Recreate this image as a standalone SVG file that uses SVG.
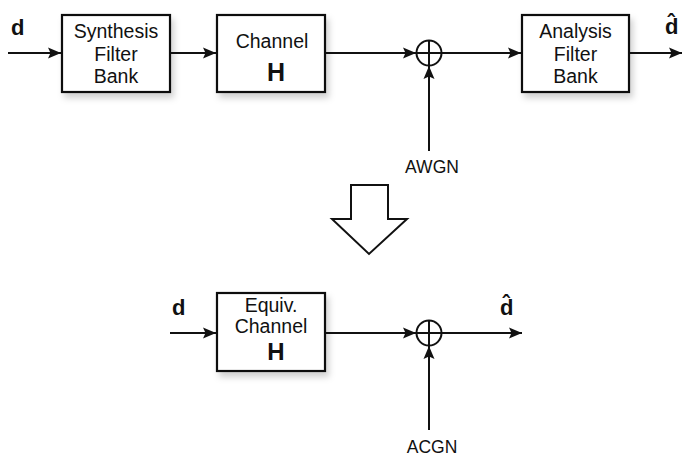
<svg xmlns="http://www.w3.org/2000/svg" width="682" height="459" viewBox="0 0 682 459">
<defs>
<marker id="ah" markerWidth="14" markerHeight="12" refX="13" refY="6" orient="auto" markerUnits="userSpaceOnUse">
<path d="M0,0.5 L13,6 L0,11.5 L2.5,6 Z" fill="#111"/>
</marker>
<filter id="sh" x="-10%" y="-10%" width="130%" height="140%">
<feDropShadow dx="3" dy="5" stdDeviation="3" flood-color="#000" flood-opacity="0.18"/>
</filter>
</defs>
<style>
.box{fill:#fff;stroke:#111;stroke-width:2.2;filter:url(#sh)}
.t{font-family:"Liberation Sans",Arial,sans-serif;font-size:19.5px;fill:#111;text-anchor:middle}
.b{font-family:"Liberation Sans",Arial,sans-serif;font-weight:bold;fill:#111}
.c{text-anchor:middle}
.ln{fill:none;stroke:#111;stroke-width:2}
.sum{fill:#fff;stroke:#111;stroke-width:2}
</style>
<rect width="682" height="459" fill="#fff"/>
<g id="synthesis">
<rect class="box" x="62" y="15" width="108" height="77"/>
<text class="t" x="116" y="38">Synthesis</text>
<text class="t" x="116" y="61">Filter</text>
<text class="t" x="116" y="83">Bank</text>
</g>
<g id="channel">
<rect class="box" x="217" y="15" width="108" height="77"/>
<text class="t" x="272" y="48">Channel</text>
<text class="b c" x="276" y="81" font-size="25">H</text>
</g>
<g id="sum1">
<circle class="sum" cx="429" cy="53" r="12.5"/>
<path class="ln" d="M416.5,53 H441.5 M429,40.5 V65.5" stroke-width="1.5"/>
</g>
<g id="analysis">
<rect class="box" x="522" y="15" width="107" height="77"/>
<text class="t" x="575.5" y="38">Analysis</text>
<text class="t" x="575.5" y="61">Filter</text>
<text class="t" x="575.5" y="83">Bank</text>
</g>
<g id="labels-top">
<text class="b" x="11" y="35" font-size="22">d</text>
<text class="b" x="665" y="34" font-size="22">d&#x302;</text>
<text class="t" x="432" y="173" style="font-size:17.5px">AWGN</text>
</g>
<g id="transform-arrow">
<path d="M351,185 H388 V219 H407 L369,254 L332,219 H351 Z" fill="#fff" stroke="#111" stroke-width="2"/>
</g>
<g id="equiv-channel">
<rect class="box" x="217" y="293" width="108" height="78"/>
<text class="t" x="271" y="312">Equiv.</text>
<text class="t" x="271" y="333">Channel</text>
<text class="b c" x="276" y="360" font-size="24">H</text>
</g>
<g id="sum2">
<circle class="sum" cx="429" cy="333" r="12.5"/>
<path class="ln" d="M416.5,333 H441.5 M429,320.5 V345.5" stroke-width="1.5"/>
</g>
<g id="labels-bottom">
<text class="b" x="172" y="315" font-size="22">d</text>
<text class="b" x="500" y="315" font-size="22">d&#x302;</text>
<text class="t" x="432" y="453" style="font-size:17.5px">ACGN</text>
</g>
<g id="connectors">
<line class="ln" x1="8" y1="53" x2="61" y2="53" marker-end="url(#ah)"/>
<line class="ln" x1="171" y1="53" x2="216" y2="53" marker-end="url(#ah)"/>
<line class="ln" x1="326" y1="53" x2="416" y2="53" marker-end="url(#ah)"/>
<line class="ln" x1="442" y1="53" x2="521" y2="53" marker-end="url(#ah)"/>
<line class="ln" x1="630" y1="53" x2="682" y2="53" marker-end="url(#ah)"/>
<line class="ln" x1="429" y1="151" x2="429" y2="66" marker-end="url(#ah)"/>
<line class="ln" x1="170" y1="333" x2="216" y2="333" marker-end="url(#ah)"/>
<line class="ln" x1="326" y1="333" x2="416" y2="333" marker-end="url(#ah)"/>
<line class="ln" x1="442" y1="333" x2="522" y2="333" marker-end="url(#ah)"/>
<line class="ln" x1="429" y1="430" x2="429" y2="346" marker-end="url(#ah)"/>
</g>
</svg>
